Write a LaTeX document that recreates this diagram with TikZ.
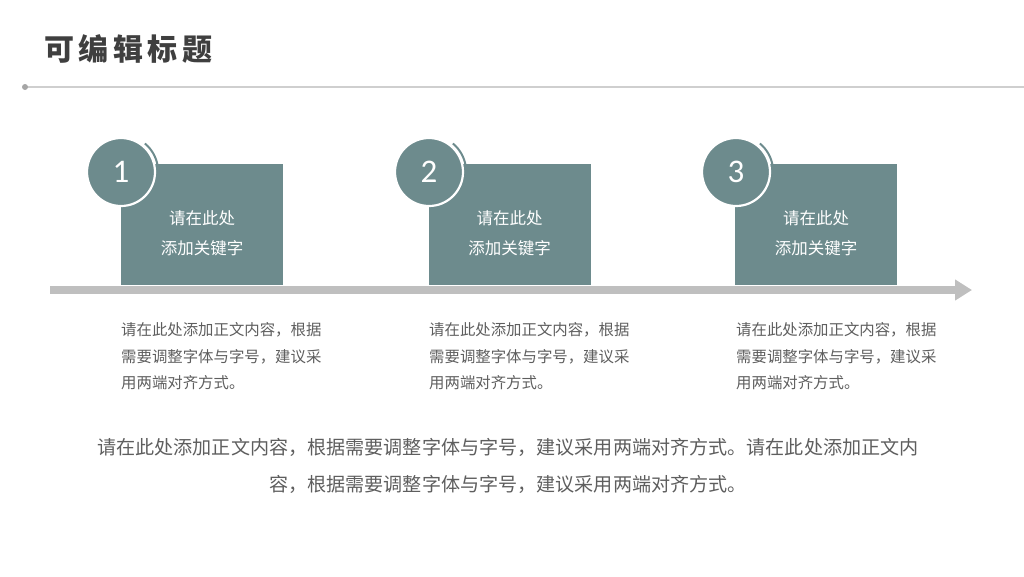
\documentclass[tikz,border=0pt]{standalone}
\usepackage{fontspec}
\usetikzlibrary{arrows.meta}
\setmainfont{Noto Sans CJK SC}
\newfontfamily\titlefont[LetterSpace=15]{Noto Sans CJK SC}
\newfontfamily\numfont{Carlito}
\definecolor{stepteal}{HTML}{6D8B8D}
\definecolor{titlegray}{HTML}{3F3F3F}
\definecolor{textgray}{HTML}{5E5E5E}
\definecolor{rulegray}{HTML}{CFCFCF}
\definecolor{arrowgray}{HTML}{BFBFBF}
\begin{document}
\begin{tikzpicture}[x=1pt, y=-1pt,
    keybox/.style={rectangle, fill=stepteal, minimum width=162pt, minimum height=121pt, inner sep=0pt},
    numdisc/.style={circle, fill=stepteal, draw=white, line width=2.2pt, minimum size=68pt, inner sep=0pt,
        text=white, font=\numfont\fontsize{33}{33}\selectfont},
    keytext/.style={text=white, align=center, font=\fontsize{16.5}{30}\selectfont},
    bodytext/.style={text=textgray, anchor=north west, align=left, inner sep=0pt, font=\fontsize{15.4}{26.5}\selectfont},
    ringarc/.style={draw=stepteal, line width=2pt}]
    \useasboundingbox (0,0) rectangle (1024,576);

    % Title
    \node[anchor=west, inner sep=0pt, text=titlegray, font=\titlefont\bfseries\fontsize{30}{30}\selectfont] at (44,48.5) (title) {可编辑标题};
    \coordinate (ruleL) at (25,87);
    \coordinate (ruleR) at (1024,87);
    \draw[rulegray, line width=1.5pt] (ruleL) -- (ruleR);
    \fill[gray!70] (ruleL) circle[radius=3];

    % Timeline
    \coordinate (lineL) at (50,290);
    \coordinate (lineR) at (972,290);
    \draw[arrowgray, line width=8pt, -{Triangle[width=20pt, length=17pt]}] (lineL) -- (lineR);

    % Boxes
    \node[keybox] at (202,224.5)  (box1) {};
    \node[keybox] at (509.5,224.5) (box2) {};
    \node[keybox] at (816,224.5)  (box3) {};

    \node[keytext] at (202,233.5)   (key1) {请在此处\\添加关键字};
    \node[keytext] at (509.5,233.5) (key2) {请在此处\\添加关键字};
    \node[keytext] at (816,233.5)   (key3) {请在此处\\添加关键字};

    % Numbers
    \node[numdisc] at (121,172) (num1) {1};
    \node[numdisc] at (429,172) (num2) {2};
    \node[numdisc] at (736,172) (num3) {3};

    \draw[ringarc] (num1.center) ++(30:37.2) arc[start angle=30, end angle=-50, radius=37.2];
    \draw[ringarc] (num2.center) ++(30:37.2) arc[start angle=30, end angle=-50, radius=37.2];
    \draw[ringarc] (num3.center) ++(30:37.2) arc[start angle=30, end angle=-50, radius=37.2];

    % Texts below the line
    \node[bodytext] at (121,322.5) (body1) {请在此处添加正文内容，根据\\需要调整字体与字号，建议采\\用两端对齐方式。};
    \node[bodytext] at (429,322.5) (body2) {请在此处添加正文内容，根据\\需要调整字体与字号，建议采\\用两端对齐方式。};
    \node[bodytext] at (736,322.5) (body3) {请在此处添加正文内容，根据\\需要调整字体与字号，建议采\\用两端对齐方式。};

    \node[text=textgray, align=center, font=\fontsize{19.1}{37}\selectfont] at (508,465.5) (summary)
        {请在此处添加正文内容，根据需要调整字体与字号，建议采用两端对齐方式。请在此处添加正文内\\容，根据需要调整字体与字号，建议采用两端对齐方式。};
\end{tikzpicture}
\end{document}
